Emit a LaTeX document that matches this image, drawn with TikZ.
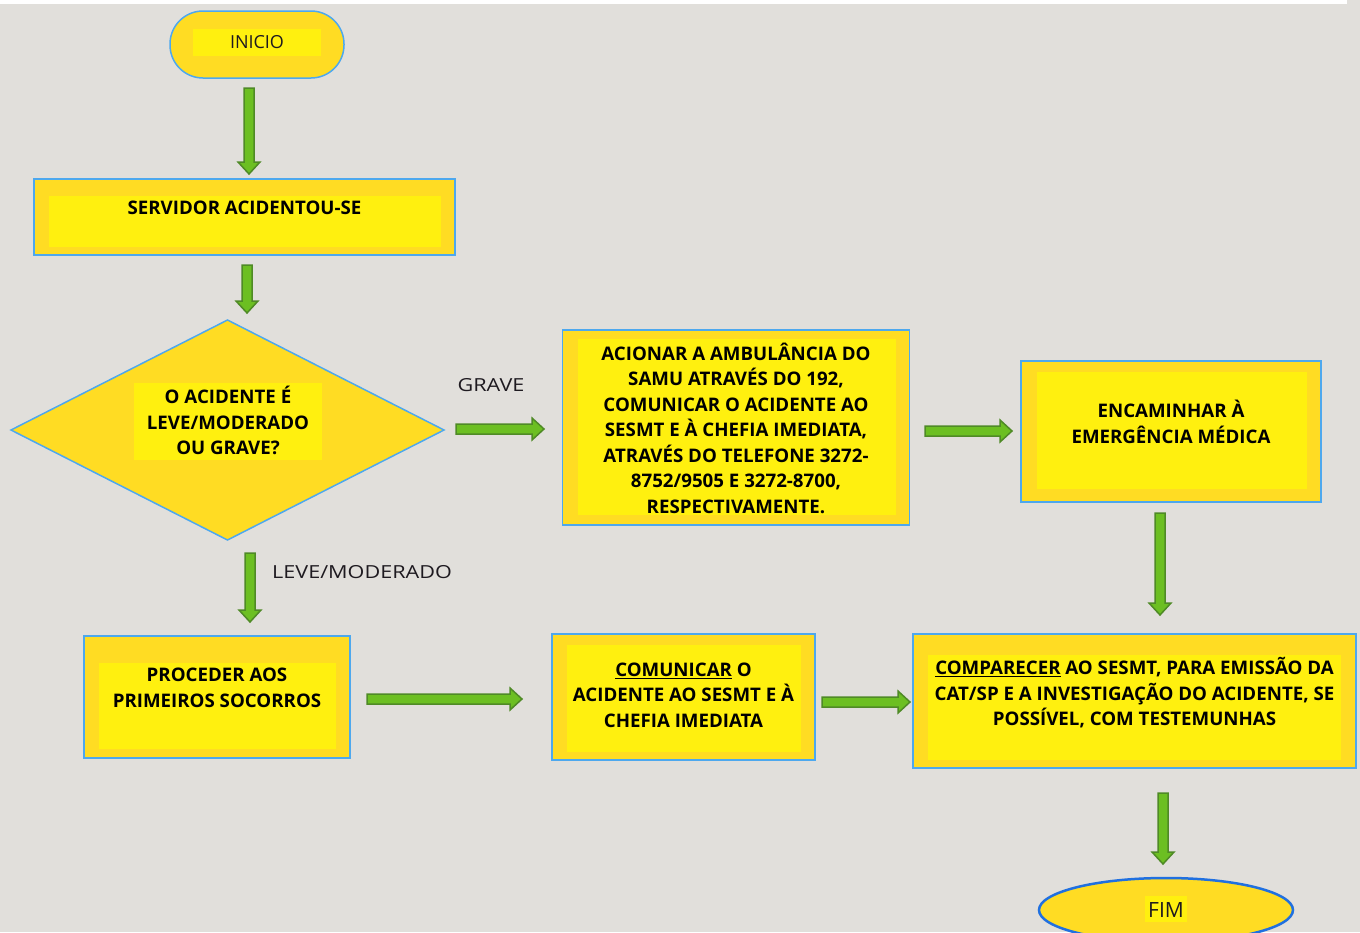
\documentclass[tikz,border=0pt]{standalone}
\usepackage{fontspec}
\setmainfont{Open Sans}
\newfontfamily\largo[FakeStretch=1.2]{Open Sans}
\usetikzlibrary{shapes.geometric,calc}

\definecolor{fundo}{HTML}{E1DFDB}
\definecolor{ouro}{HTML}{FFDC23}
\definecolor{amarelo}{HTML}{FFF00F}
\definecolor{azul}{HTML}{4DA8EE}
\definecolor{azulfim}{HTML}{2070E0}
\definecolor{verde}{HTML}{6CBF22}
\definecolor{verdeesc}{HTML}{4F8A26}
\definecolor{texto}{HTML}{1E1A20}

% seta em bloco de #1 para #2
\newcommand\seta[2]{%
  \path[seta] let \p1=(#1), \p2=(#2), \n1={atan2(\y2-\y1,\x2-\x1)}, \n2={veclen(\x2-\x1,\y2-\y1)} in
    [shift={(\p1)}, rotate=\n1] (0pt,5pt) -- ({(\n2-12)*1pt},5pt) -- ({(\n2-12)*1pt},11pt)
    -- ({\n2*1pt},0pt) -- ({(\n2-12)*1pt},-11pt) -- ({(\n2-12)*1pt},-5pt) -- (0pt,-5pt) -- cycle;}

\tikzset{
  caixa/.style={draw=azul, fill=ouro, line width=1.5pt, inner sep=0pt, outer sep=0pt},
  miolo/.style n args={4}{path picture={\fill[amarelo, sharp corners]
      ([shift={(#1pt,-#2pt)}]path picture bounding box.north west) rectangle
      ([shift={(-#3pt,#4pt)}]path picture bounding box.south east);}},
  txt/.style={font=\bfseries\fontsize{18.7}{25.5}\selectfont, text=black, align=center, inner sep=0pt},
  rot/.style={font=\fontsize{18}{22}\selectfont, text=texto, inner sep=0pt},
  seta/.style={fill=verde, draw=verdeesc, line width=1.5pt}
}

\begin{document}
\begin{tikzpicture}[x=1pt, y=-1pt]
  \useasboundingbox (0,0) rectangle (1360,932);
  \fill[fundo] (0,0) rectangle (1360,932);
  \fill[white] (0,0) rectangle (1347,4);
  \clip (0,0) rectangle (1360,932);

  % caixas
  \node[caixa, rounded corners=33pt, minimum width=174pt, minimum height=67pt, miolo={23}{18}{23}{22}] (inicio) at (257,44.5) {};
  \node[caixa, minimum width=421pt, minimum height=76pt, miolo={15}{17}{14}{8}] (servidor) at (244.5,217) {};
  \node[caixa, diamond, minimum width=433pt, minimum height=220pt, miolo={123}{63}{122}{80}] (decisao) at (227.5,430) {};
  \node[caixa, minimum width=347pt, minimum height=195pt, miolo={15}{9}{14}{10}] (acionar) at (736,427.5) {};
  \node[caixa, minimum width=300pt, minimum height=141pt, miolo={16}{11}{14}{13}] (encaminhar) at (1171,431.5) {};
  \node[caixa, minimum width=266pt, minimum height=122pt, miolo={15}{27}{14}{9}] (proceder) at (217,697) {};
  \node[caixa, minimum width=263pt, minimum height=126pt, miolo={15}{11}{14}{8}] (comunicar) at (683.5,697) {};
  \node[caixa, minimum width=443pt, minimum height=134pt, miolo={15}{21}{15}{8}] (comparecer) at (1134.5,701) {};
  \node[caixa, ellipse, draw=azulfim, line width=2.5pt, minimum width=254pt, minimum height=64pt, miolo={106}{18}{106}{20}] (fim) at (1166,910) {};

  % textos
  \node[rot] (t-inicio) at (257,42) {INICIO};
  \node[txt] (t-servidor) at (244.5,208) {SERVIDOR ACIDENTOU-SE};
  \node[txt] (t-decisao) at (228,420.5) {O ACIDENTE É\\LEVE/MODERADO\\OU GRAVE?};
  \node[txt] (t-acionar) at (736,428) {ACIONAR A AMBULÂNCIA DO\\SAMU ATRAVÉS DO 192,\\COMUNICAR O ACIDENTE AO\\SESMT E À CHEFIA IMEDIATA,\\ATRAVÉS DO TELEFONE 3272-\\8752/9505 E 3272-8700,\\RESPECTIVAMENTE.};
  \node[txt] (t-encaminhar) at (1171,422) {ENCAMINHAR À\\EMERGÊNCIA MÉDICA};
  \node[txt] (t-proceder) at (217,688) {PROCEDER AOS\\PRIMEIROS SOCORROS};
  \node[txt] (t-comunicar) at (683.5,695) {\underline{COMUNICAR} O\\ACIDENTE AO SESMT E À\\CHEFIA IMEDIATA};
  \node[txt] (t-comparecer) at (1134.5,693) {\underline{COMPARECER} AO SESMT, PARA EMISSÃO DA\\CAT/SP E A INVESTIGAÇÃO DO ACIDENTE, SE\\POSSÍVEL, COM TESTEMUNHAS};
  \node[rot, font=\fontsize{21}{25}\selectfont] (t-fim) at (1166,910) {FIM};
  \node[rot, font=\largo\fontsize{18}{22}\selectfont] (grave) at (491,385) {GRAVE};
  \node[rot, font=\largo\fontsize{18}{22}\selectfont, anchor=west] (leve) at (272,572) {LEVE/MODERADO};

  % setas
  \seta{[shift={(-8,10)}]inicio.south}{[shift={(4.5,-5)}]servidor.north}
  \seta{[shift={(2.5,10)}]servidor.south}{[shift={(19.5,-7)}]decisao.north}
  \seta{[shift={(12,-1)}]decisao.east}{[shift={(-18.5,1.5)}]acionar.west}
  \seta{[shift={(22.5,13)}]decisao.south}{[shift={(33,-14)}]proceder.north}
  \seta{[shift={(15.5,3.5)}]acionar.east}{[shift={(-9,-0.5)}]encaminhar.west}
  \seta{[shift={(-11,11)}]encaminhar.south}{[shift={(25.5,-19)}]comparecer.north}
  \seta{[shift={(17,2)}]proceder.east}{[shift={(-30,2)}]comunicar.west}
  \seta{[shift={(7,5)}]comunicar.east}{[shift={(-3,1)}]comparecer.west}
  \seta{[shift={(28.5,25)}]comparecer.south}{[shift={(-3,-14)}]fim.north}
\end{tikzpicture}
\end{document}
